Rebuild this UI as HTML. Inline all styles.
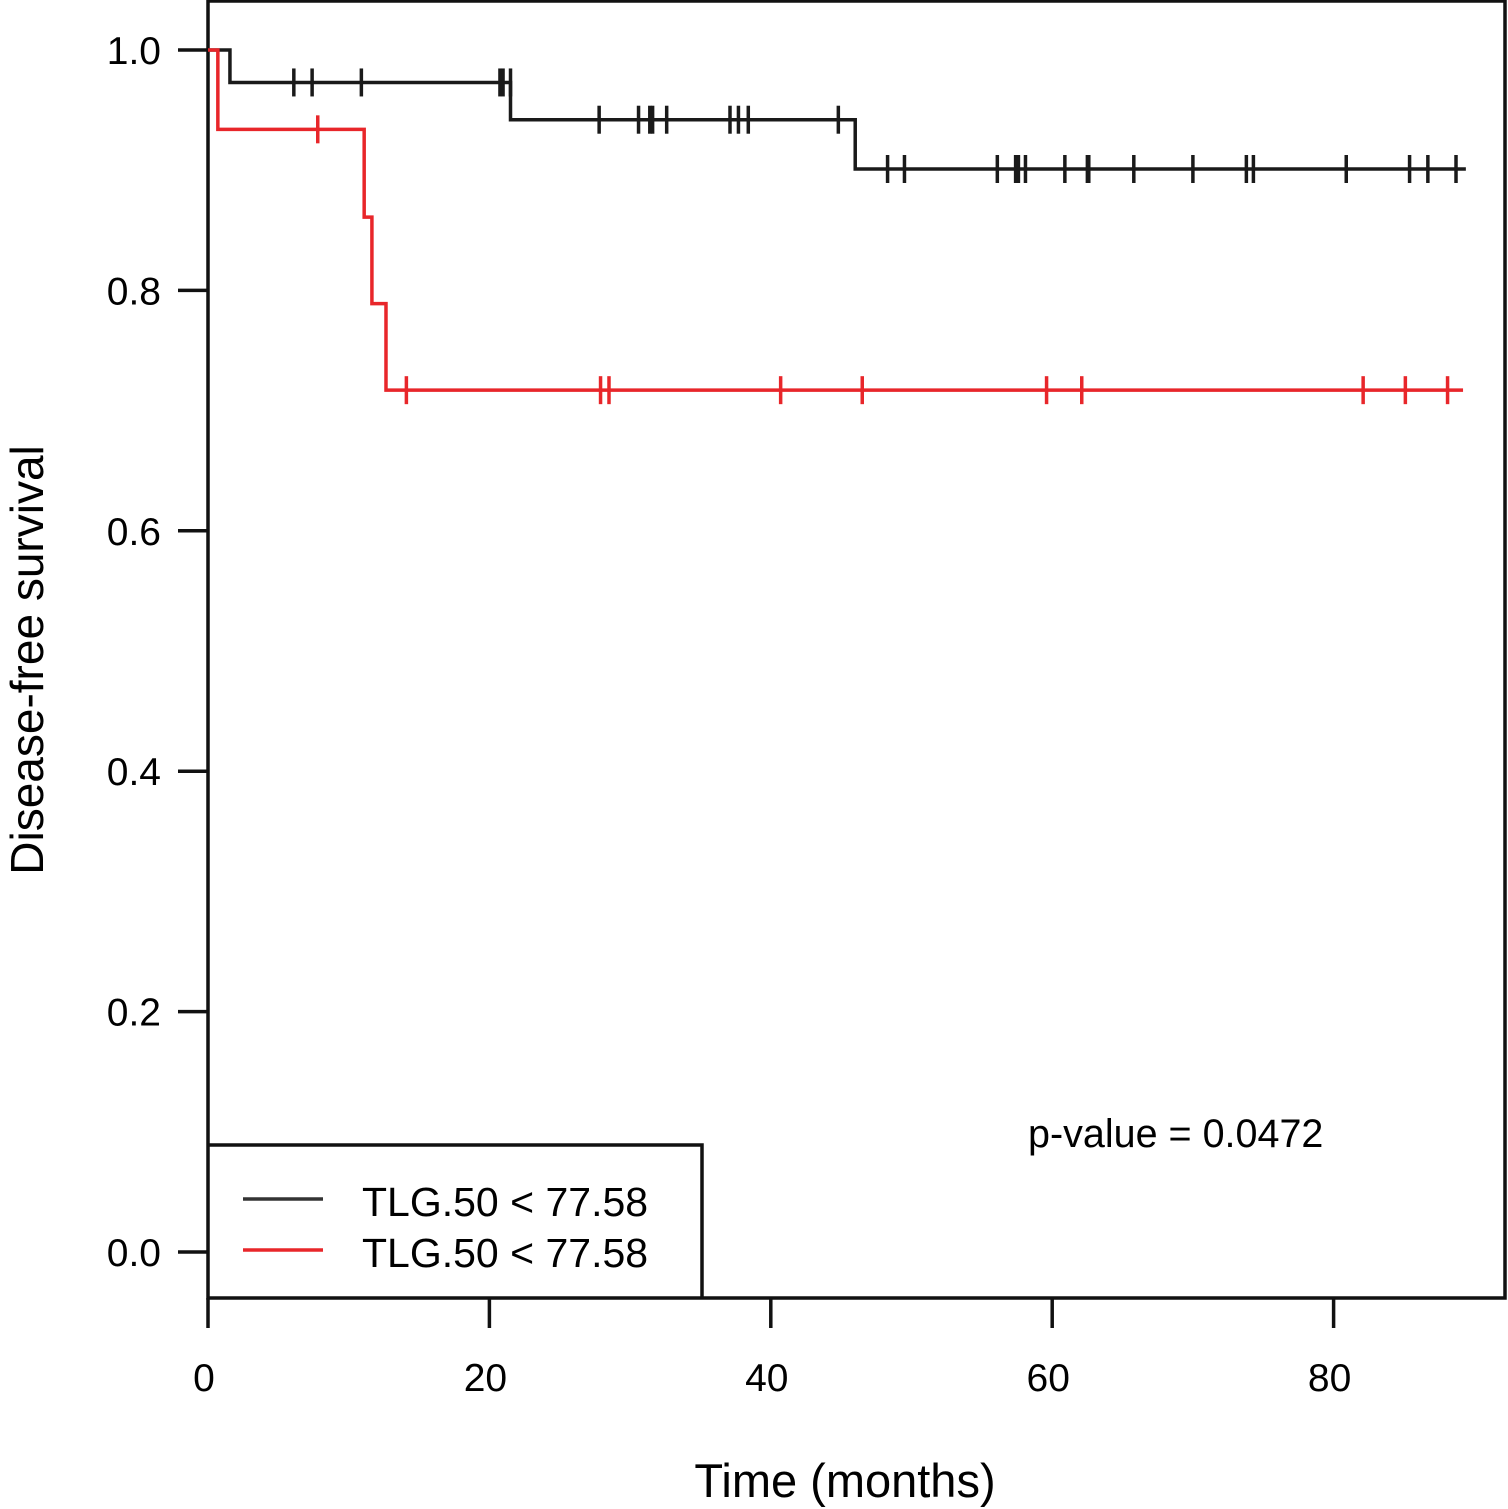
<!DOCTYPE html>
<html><head><meta charset="utf-8"><style>
html,body{margin:0;padding:0;background:#fff;}
svg{display:block;font-family:"Liberation Sans",Arial,sans-serif;}
</style></head><body>
<svg id="chart" width="1508" height="1509" viewBox="0 0 1508 1509">
<g id="plot"></g>
</svg>
<script>
const xTicks = [0, 20, 40, 60, 80];
const yTicks = [0.0, 0.2, 0.4, 0.6, 0.8, 1.0];
const yTickLabels = ["0.0", "0.2", "0.4", "0.6", "0.8", "1.0"];
const blackStepTimes = [0, 1.56, 21.5, 46.0];
const blackStepSurv = [1.0, 0.973, 0.942, 0.901];
const blackEnd = 89.4;
const blackCensor = [6.1, 7.4, 10.9, 20.75, 20.97, 21.5, 27.8, 30.6, 31.4, 31.6, 32.6, 37.1, 37.7, 38.4, 44.8, 48.3, 49.5, 56.1, 57.4, 57.6, 58.1, 60.9, 62.5, 62.6, 65.8, 70.0, 73.8, 74.3, 80.9, 85.4, 86.7, 88.7];
const redStepTimes = [0, 0.7, 11.1, 11.65, 12.65];
const redStepSurv = [1.0, 0.934, 0.861, 0.789, 0.717];
const redEnd = 89.2;
const redCensor = [7.8, 14.1, 27.9, 28.5, 40.7, 46.5, 59.6, 62.1, 82.1, 85.1, 88.1];
const legendLabels = ["TLG.50 < 77.58", "TLG.50 < 77.58"];

const NS = "http://www.w3.org/2000/svg";
const X = t => 208 + t * 14.07;
const Y = s => 1252 - s * 1202;
const g = document.getElementById('plot');
function mk(tag, attrs, parent) {
  const e = document.createElementNS(NS, tag);
  for (const k in attrs) e.setAttribute(k, attrs[k]);
  (parent || g).appendChild(e);
  return e;
}
let fr = mk('rect', {x: 208, y: 1, width: 1297, height: 1297, fill: 'none', stroke: '#111', 'stroke-width': 3.5});


yTicks.forEach((v, i) => {
  let l = mk('line', {x1: 178, x2: 208, y1: Y(v), y2: Y(v), stroke: '#111', 'stroke-width': 3.5});
  
  
  let t = mk('text', {x: 161, y: Y(v) + 14, 'text-anchor': 'end', 'font-size': 39, fill: '#000'});
  t.textContent = yTickLabels[i];
  
  
});
xTicks.forEach(v => {
  let l = mk('line', {x1: X(v), x2: X(v), y1: 1298, y2: 1328, stroke: '#111', 'stroke-width': 3.5});
  
  
  let t = mk('text', {x: X(v) - 4, y: 1391, 'text-anchor': 'middle', 'font-size': 39, fill: '#000'});
  t.textContent = String(v);
  
  
});
let xt = mk('text', {x: 845, y: 1497, 'text-anchor': 'middle', 'font-size': 47, fill: '#000'});
xt.textContent = 'Time (months)';


let yt = mk('text', {x: 0, y: 0, 'text-anchor': 'middle', 'font-size': 46, fill: '#000', transform: 'translate(43,660) rotate(-90)'});
yt.textContent = 'Disease-free survival';



function survAt(times, surv, t) {
  let s = surv[0];
  for (let i = 0; i < times.length; i++) if (t >= times[i]) s = surv[i];
  return s;
}
function curve(times, surv, end, cens, color, name) {
  let d = 'M' + X(times[0]) + ',' + Y(surv[0]);
  for (let i = 1; i < times.length; i++) {
    d += ' H' + X(times[i]) + ' V' + Y(surv[i]);
  }
  d += ' H' + X(end);
  let p = mk('path', {d: d, fill: 'none', stroke: color, 'stroke-width': 3.5});
  
  
  cens.forEach(c => {
    const y = Y(survAt(times, surv, c - 0.0001));
    let l = mk('line', {x1: X(c), x2: X(c), y1: y - 14, y2: y + 14, stroke: color, 'stroke-width': 3.5});
    
    
  });
}
curve(blackStepTimes, blackStepSurv, blackEnd, blackCensor, '#1a1a1a', 'low-tlg');
curve(redStepTimes, redStepSurv, redEnd, redCensor, '#e8262a', 'high-tlg');

let lg = mk('g', {});


mk('path', {d: 'M208,1145 H702 V1298', fill: 'none', stroke: '#111', 'stroke-width': 3.5}, lg);
const lcols = ['#333', '#e8262a'];
legendLabels.forEach((s, i) => {
  const y = [1199, 1250][i];
  let l = mk('line', {x1: 243, x2: 323, y1: y, y2: y, stroke: lcols[i], 'stroke-width': 3.5}, lg);
  
  
  let t = mk('text', {x: 362, y: y + 17, 'font-size': 41, fill: '#000'}, lg);
  t.textContent = s;
  
  
});
let pv = mk('text', {x: 1028, y: 1147, 'font-size': 39.5, fill: '#000'});
pv.textContent = 'p-value = 0.0472';


</script>
</body></html>
